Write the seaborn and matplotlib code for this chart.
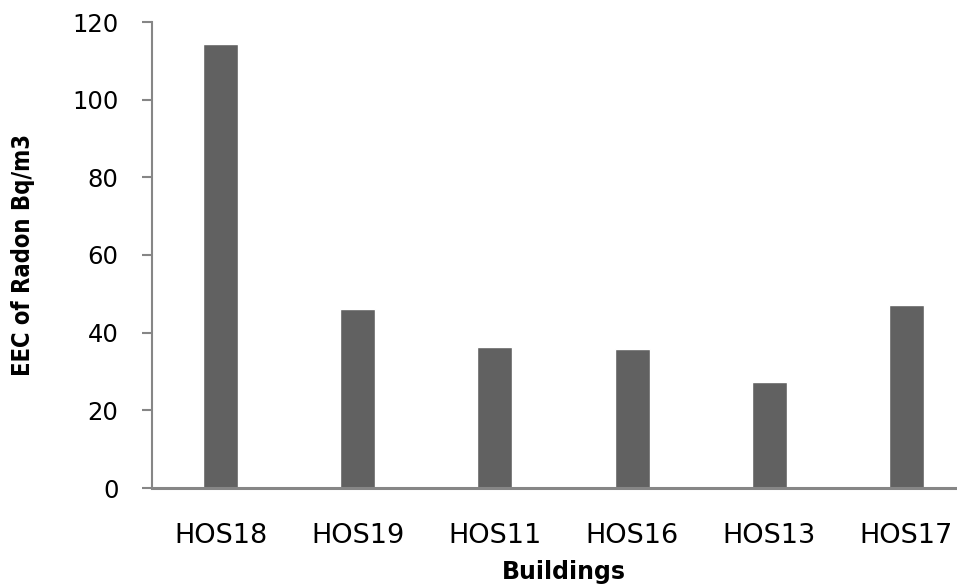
import matplotlib
matplotlib.use("Agg")
import matplotlib.pyplot as plt
import seaborn as sns
import pandas as pd

# values
buildings = ["HOS18", "HOS19", "HOS11", "HOS16", "HOS13", "HOS17"]
eec_radon = [114.3, 46.1, 36.3, 35.8, 27.3, 47.1]
y_ticks = [0, 20, 40, 60, 80, 100, 120]

df = pd.DataFrame({"Buildings": buildings, "EEC": eec_radon})

sns.set_theme(style="white")
plt.rcParams["font.family"] = ["DejaVu Sans"]
plt.rcParams["text.color"] = "black"
plt.rcParams["axes.labelcolor"] = "black"

fig = plt.figure(figsize=(9.57, 5.88), dpi=100)
ax = fig.add_axes([152 / 957, 100 / 588, 823 / 957, 466 / 588])

sns.barplot(data=df, x="Buildings", y="EEC", color="#616161", saturation=1,
            width=0.255, errorbar=None, ax=ax)

ax.set_xlim(-0.5, 5.5)
ax.set_ylim(0, 120)
ax.set_yticks(y_ticks)

grey = "#868686"
sns.despine(ax=ax)
ax.spines["left"].set_color(grey)
ax.spines["left"].set_linewidth(1.5)
ax.spines["bottom"].set_color(grey)
ax.spines["bottom"].set_linewidth(2.2)

ax.tick_params(axis="y", length=7.2, width=1.5, color=grey, pad=17,
               labelsize=17.5, labelcolor="black", left=True)
ax.tick_params(axis="x", length=0, pad=25, labelsize=19.5, labelcolor="black")

ax.set_xlabel("Buildings", fontsize=17, fontweight="bold", labelpad=8,
              color="black")
ax.set_ylabel("EEC of Radon Bq/m3", fontsize=17, fontweight="bold",
              fontstretch="condensed", color="black")
ax.yaxis.set_label_coords(-0.142, 0.5)

fig.savefig("out.png", dpi=100)
